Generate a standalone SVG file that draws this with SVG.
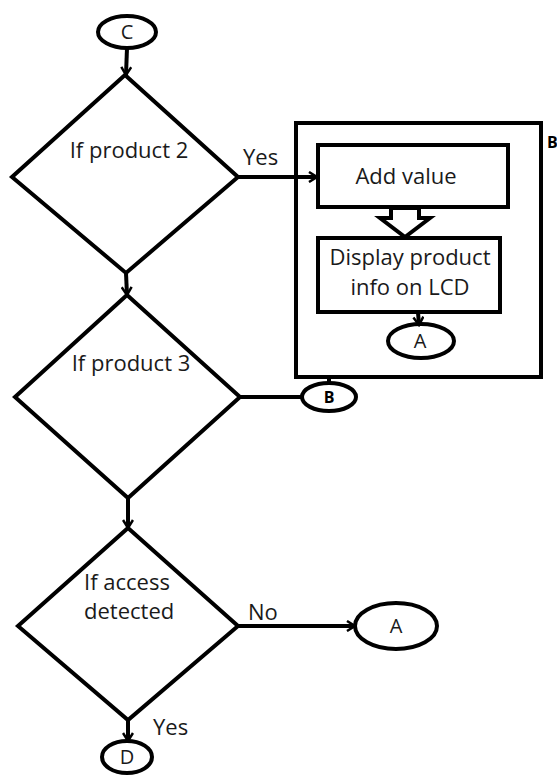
<svg xmlns="http://www.w3.org/2000/svg" width="557" height="776" viewBox="0 0 557 776">
  <defs>
    <style>
      .shape { fill: #ffffff; stroke: #000000; stroke-width: 4; stroke-linejoin: miter; }
      .frame { fill: none; stroke: #000000; stroke-width: 4; }
      .line { fill: none; stroke: #000000; stroke-width: 4; }
      .label { font-family: "Open Sans", "Liberation Sans", sans-serif; font-size: 22px; fill: #1a1a1a; }
      .small { font-size: 20px; }
      .tag { font-size: 16px; font-weight: bold; fill: #000000; }
      .mid { text-anchor: middle; }
    </style>
    <marker id="arrow" viewBox="0 0 12 12" refX="10" refY="6" markerWidth="12" markerHeight="12" markerUnits="userSpaceOnUse" orient="auto">
      <path d="M2,1 L10,6 L2,11" fill="none" stroke="#000000" stroke-width="2.5"/>
    </marker>
  </defs>
  <rect width="557" height="776" fill="#ffffff"/>

  <g id="node-c">
    <ellipse class="shape" cx="127" cy="32" rx="29" ry="16"/>
    <text class="label small mid" x="127" y="39">C</text>
  </g>

  <g id="node-product2">
    <polygon class="shape" points="125,75 238,177 126,273 12,177"/>
    <text class="label mid" x="129" y="158">If product 2</text>
    <text class="label" x="243" y="165">Yes</text>
  </g>

  <g id="node-b-group">
    <rect class="frame" x="296" y="123" width="245" height="254"/>
    <text class="label tag" x="547" y="148">B</text>
  </g>

  <g id="node-add-value">
    <rect class="shape" x="318" y="145" width="190" height="62"/>
    <text class="label mid" x="406" y="184">Add value</text>
  </g>

  <g id="node-display">
    <rect class="shape" x="318" y="238" width="182" height="74"/>
    <text class="label mid" x="410" y="265">Display product</text>
    <text class="label mid" x="410" y="295">info on LCD</text>
  </g>

  <g id="node-a-inner">
    <ellipse class="shape" cx="421" cy="341" rx="33" ry="17"/>
    <text class="label small mid" x="420" y="348">A</text>
  </g>

  <g id="node-product3">
    <polygon class="shape" points="127,295 240,397 128,498 15,397"/>
    <text class="label mid" x="131" y="371">If product 3</text>
  </g>

  <g id="node-b">
    <ellipse class="shape" cx="329" cy="397" rx="27" ry="14"/>
    <text class="label tag mid" x="329" y="403">B</text>
  </g>

  <g id="node-access">
    <polygon class="shape" points="128,528 238,626 128,720 18,626"/>
    <text class="label" x="84" y="590">If access</text>
    <text class="label" x="84" y="619">detected</text>
  </g>

  <g id="node-a">
    <ellipse class="shape" cx="396" cy="626" rx="41" ry="23"/>
    <text class="label small mid" x="396" y="633">A</text>
  </g>

  <g id="node-d">
    <ellipse class="shape" cx="127" cy="757" rx="25" ry="16"/>
    <text class="label small mid" x="127" y="764">D</text>
  </g>

  <!-- connectors, drawn last so arrow tips sit on the shapes -->
  <g id="connectors">
    <line class="line" x1="127" y1="48" x2="126" y2="75" marker-end="url(#arrow)"/>
    <line class="line" x1="238" y1="177" x2="317" y2="177" marker-end="url(#arrow)"/>
    <line class="line" x1="126" y1="273" x2="127" y2="295" marker-end="url(#arrow)"/>
    <line class="line" x1="418" y1="312" x2="419" y2="325" marker-end="url(#arrow)"/>
    <line class="line" x1="240" y1="397" x2="302" y2="397"/>
    <line class="line" x1="329" y1="377" x2="329" y2="383"/>
    <line class="line" x1="128" y1="498" x2="128" y2="528" marker-end="url(#arrow)"/>
    <line class="line" x1="238" y1="626" x2="355" y2="626" marker-end="url(#arrow)"/>
    <line class="line" x1="128" y1="720" x2="128" y2="741" marker-end="url(#arrow)"/>
    <text class="label" x="248" y="620">No</text>
    <text class="label" x="153" y="735">Yes</text>
    <!-- hollow block arrow between the two process boxes -->
    <path class="shape" stroke-width="3.5" d="M391,208 L419,208 L419,218 L430,218 L405,237 L380,218 L391,218 Z"/>
  </g>
</svg>
